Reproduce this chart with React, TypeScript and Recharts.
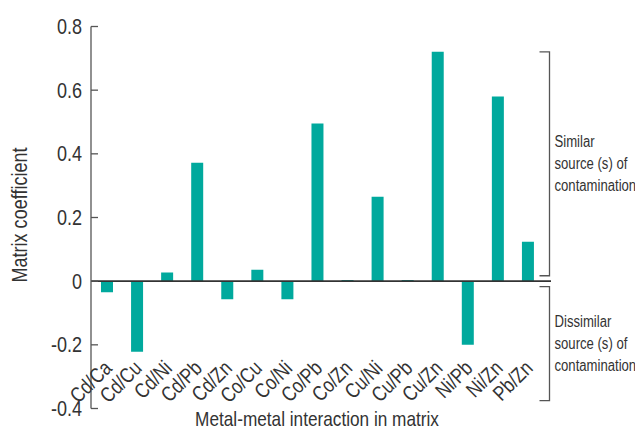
import React from 'react';
import { BarChart, Bar, XAxis, YAxis, ReferenceLine } from 'recharts';

// Metal pairs and their matrix coefficients
const categories = ['Cd/Ca', 'Cd/Cu', 'Cd/Ni', 'Cd/Pb', 'Cd/Zn', 'Co/Cu', 'Co/Ni', 'Co/Pb', 'Co/Zn', 'Cu/Ni', 'Cu/Pb', 'Cu/Zn', 'Ni/Pb', 'Ni/Zn', 'Pb/Zn'];
const coefficients = [-0.035, -0.222, 0.027, 0.372, -0.057, 0.036, -0.057, 0.495, 0.004, 0.265, 0.004, 0.721, -0.2, 0.58, 0.124];
const yTicks = [-0.4, -0.2, 0, 0.2, 0.4, 0.6, 0.8];
const yDomain: [number, number] = [-0.4, 0.8];

// Brackets grouping the pairs by source of contamination
const similarRange = [0.72, 0.017];
const dissimilarRange = [-0.017, -0.375];
const similarLines = ['Similar', 'source (s) of', 'contamination'];
const dissimilarLines = ['Dissimilar', 'source (s) of', 'contamination'];

const data = categories.map((pair, i) => ({ pair, value: coefficients[i] }));

const W = 635;
const H = 431;
const MARGIN = { top: 26.5, right: 84, bottom: 21.5, left: 0 };
const Y_AXIS_W = 91;
const X_AXIS_H = 1;
const PLOT_TOP = MARGIN.top;
const PLOT_H = H - MARGIN.top - MARGIN.bottom - X_AXIS_H;

const FONT = "'Liberation Sans', Arial, Helvetica, sans-serif";
const TEXT = '#333333';
const AXIS = '#555555';
const TEAL = '#00a99d';
const SQUEEZE = 0.82;

const yOf = (v: number) => PLOT_TOP + ((yDomain[1] - v) / (yDomain[1] - yDomain[0])) * PLOT_H;

type NarrowProps = {
  x: number;
  y: number;
  size: number;
  anchor?: 'start' | 'middle' | 'end';
  rotate?: number;
  children: React.ReactNode;
};

// Condensed-looking text: regular sans squeezed horizontally
function Narrow({ x, y, size, anchor = 'start', rotate = 0, children }: NarrowProps) {
  return (
    <text
      transform={`translate(${x},${y}) rotate(${rotate}) scale(${SQUEEZE},1)`}
      fontFamily={FONT}
      fontSize={size}
      fill={TEXT}
      textAnchor={anchor}
    >
      {children}
    </text>
  );
}

const TICK_MARGIN = 9;
const TICK_LEN = 7;

function YTick(props: any) {
  const { x, y, payload } = props;
  const v = payload.value as number;
  const label = v === 0 ? '0' : v.toFixed(1);
  const axisX = x + TICK_MARGIN;
  return (
    <g>
      <line x1={axisX} x2={axisX + TICK_LEN} y1={y} y2={y} stroke={AXIS} strokeWidth={1.3} />
      <Narrow x={x} y={y + 7.5} size={22} anchor="end">
        {label}
      </Narrow>
    </g>
  );
}

function XTick(props: any) {
  const { x, y, payload } = props;
  return (
    <Narrow x={x + 6} y={y - 39} size={21} anchor="end" rotate={-45}>
      {payload.value}
    </Narrow>
  );
}

function Bracket({ range, lines }: { range: number[]; lines: string[] }) {
  const x = 549.5;
  const y1 = yOf(range[0]);
  const y2 = yOf(range[1]);
  const mid = (y1 + y2) / 2;
  const lineGap = 22;
  return (
    <g>
      <path d={`M${x - 10},${y1} H${x} V${y2} H${x - 10}`} fill="none" stroke={AXIS} strokeWidth={1.3} />
      {lines.map((t, i) => (
        <Narrow key={t + i} x={x + 5} y={mid + (i - 1) * lineGap + 5} size={16}>
          {t}
        </Narrow>
      ))}
    </g>
  );
}

export default function App() {
  return (
    <div style={{ position: 'absolute', left: 0, top: 0, width: W, height: H, background: '#fff' }}>
      <BarChart width={W} height={H} data={data} margin={MARGIN} barCategoryGap={0}>
        <XAxis
          dataKey="pair"
          height={X_AXIS_H}
          axisLine={false}
          tickLine={false}
          tickSize={0}
          tickMargin={0}
          interval={0}
          padding={{ left: 1, right: 8 }}
          tick={<XTick />}
        />
        <YAxis
          type="number"
          domain={yDomain}
          ticks={yTicks}
          width={Y_AXIS_W}
          axisLine={{ stroke: AXIS, strokeWidth: 1.3 }}
          tickLine={false}
          tickSize={0}
          tickMargin={TICK_MARGIN}
          allowDataOverflow
          tick={<YTick />}
        />
        <Bar dataKey="value" fill={TEAL} barSize={12} isAnimationActive={false} />
        <ReferenceLine y={0} stroke="#333333" strokeWidth={1.6} ifOverflow="extendDomain" />
      </BarChart>
      <svg width={W} height={H} style={{ position: 'absolute', left: 0, top: 0, pointerEvents: 'none' }}>
        <Bracket range={similarRange} lines={similarLines} />
        <Bracket range={dissimilarRange} lines={dissimilarLines} />
        <Narrow x={27} y={215} size={22} anchor="middle" rotate={-90}>
          Matrix coefficient
        </Narrow>
        <Narrow x={317} y={426} size={21} anchor="middle">
          Metal-metal interaction in matrix
        </Narrow>
      </svg>
    </div>
  );
}
